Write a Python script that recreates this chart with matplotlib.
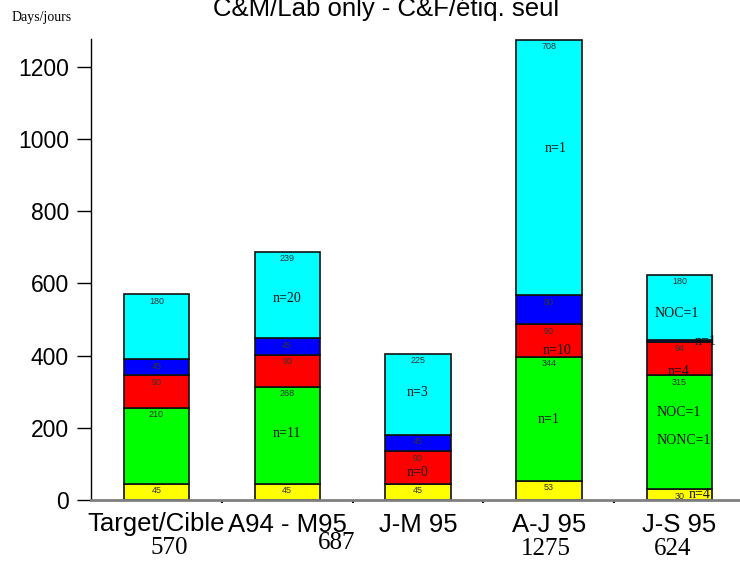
import matplotlib.pyplot as plt
import numpy as np

# datos (dias por etapa)
categorias = ['Target/Cible', 'A94 - M95', 'J-M 95', 'A-J 95', 'J-S 95']
amarillo = [45, 45, 45, 53, 30]
verde = [210, 268, 0, 344, 315]
rojo = [90, 90, 90, 90, 94]
azul = [45, 45, 45, 80, 5]
cian = [180, 239, 225, 708, 180]
mostrar_total = [True, True, False, True, True]

# etiquetas n= (barra, valor y, texto)
notas = [
    (1, 559, 'n=20'), (1, 185, 'n=11'),
    (2, 299, 'n=3'), (2, 77, 'n=0'),
    (3, 975, 'n=1'), (3, 415, 'n=10'), (3, 224, 'n=1'),
    (4, 517, 'NOC=1'), (4, 438, 'n=1'), (4, 357, 'n=4'),
    (4, 241, 'NOC=1'), (4, 164, 'NONC=1'), (4, 16, 'n=4'),
]
desplaz_notas = [0, 0, 0, 0, 0.05, 0.06, 0.0, -0.02, 0.2, -0.01, -0.01, 0.03, 0.15]

series = [amarillo, verde, rojo, azul, cian]
colores = ['#FFFF00', '#00FF00', '#FF0000', '#0000FF', '#00FFFF']

fig = plt.figure(figsize=(7.4, 5.62), dpi=100)
ax = fig.add_axes([91/740, 62/562, 654/740, 461/562])

x = np.arange(len(categorias))
base = np.zeros(len(categorias))
for vals, col in zip(series, colores):
    vals = np.array(vals, dtype=float)
    ax.bar(x, vals, bottom=base, width=0.5, color=col, edgecolor='#111111', linewidth=1.2)
    for i in range(len(x)):
        if vals[i] >= 10:
            ax.annotate(str(int(vals[i])), (x[i], base[i] + vals[i]), xytext=(0, -5),
                        textcoords='offset points', ha='center', va='center',
                        fontsize=6.5, color='#333333', family='Liberation Sans')
    base = base + vals

for (i, yv, txt), dx in zip(notas, desplaz_notas):
    ax.text(i + dx, yv, txt, ha='center', va='center', fontsize=10,
            family='Liberation Serif', color='#111111')

# totales debajo de las categorias
desplaz_tot = [(0.1, -48), (0.38, -43), (0, 0), (-0.02, -49), (-0.05, -49)]
for i in range(len(x)):
    if mostrar_total[i]:
        ax.annotate(str(int(base[i])), (x[i] + desplaz_tot[i][0], 0),
                    xytext=(0, desplaz_tot[i][1]), textcoords='offset pixels',
                    ha='center', va='center', fontsize=18, family='Liberation Serif',
                    annotation_clip=False)

ax.set_xlim(-0.5, 4.5)
ax.set_ylim(0, 1277)
ax.set_yticks(range(0, 1201, 200))
ax.tick_params(axis='y', length=10, width=1, pad=6, labelsize=16.5)
ax.set_xticks(x)
ax.set_xticklabels(categorias, fontsize=18.5, family='Liberation Sans')
ax.set_xticks(x[:-1] + 0.5, minor=True)
ax.tick_params(axis='x', which='major', length=0, pad=9)
ax.tick_params(axis='x', which='minor', length=2.5, width=1.5, color='black')
for lab in ax.get_yticklabels():
    lab.set_family('Liberation Sans')

ax.spines['top'].set_visible(False)
ax.spines['right'].set_visible(False)
ax.spines['bottom'].set_color('#808080')
ax.spines['bottom'].set_linewidth(2)
ax.spines['left'].set_linewidth(1)

fig.text(386/740, 1 - 9/562, 'C&M/Lab only - C&F/étiq. seul', ha='center', va='center',
         fontsize=18.5, family='Liberation Sans')
fig.text(12/740, 1 - 17/562, 'Days/jours', ha='left', va='center', fontsize=10,
         family='Liberation Serif')

fig.savefig('out.png', dpi=100)
